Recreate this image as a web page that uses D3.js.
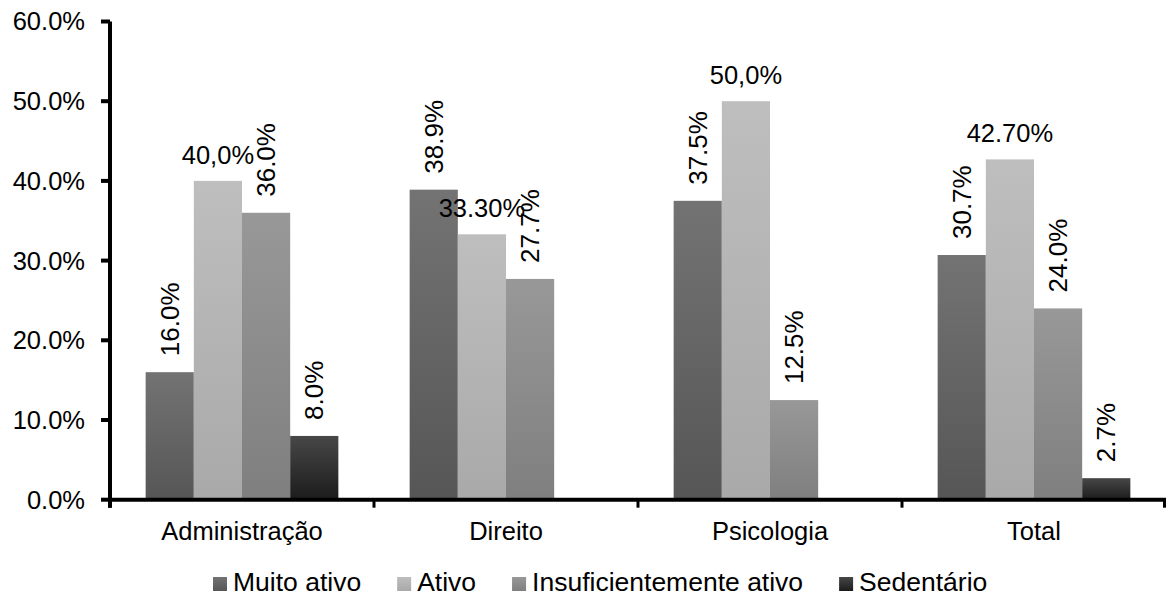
<!DOCTYPE html>
<html>
<head>
<meta charset="utf-8">
<script src="https://cdn.jsdelivr.net/npm/d3@7"></script>
<style>
  html, body { margin: 0; padding: 0; background: #fff; }
  svg { display: block; }
  text { font-family: "Liberation Sans", Arial, sans-serif; fill: #000; }
</style>
</head>
<body>
<svg id="chart" width="1167" height="598"></svg>
<script>
// ---- data ----
const categories = ["Administração", "Direito", "Psicologia", "Total"];
const seriesNames = ["Muito ativo", "Ativo", "Insuficientemente ativo", "Sedentário"];
const muitoAtivo = [16.0, 38.9, 37.5, 30.7];
const ativo = [40.0, 33.3, 50.0, 42.7];
const insuficiente = [36.0, 27.7, 12.5, 24.0];
const sedentario = [8.0, null, null, 2.7];
const muitoAtivoLabels = ["16.0%", "38.9%", "37.5%", "30.7%"];
const ativoLabels = ["40,0%", "33.30%", "50,0%", "42.70%"];
const insuficienteLabels = ["36.0%", "27.7%", "12.5%", "24.0%"];
const sedentarioLabels = ["8.0%", "", "", "2.7%"];
const yTicks = [0, 10, 20, 30, 40, 50, 60];
const yTickLabels = ["0.0%", "10.0%", "20.0%", "30.0%", "40.0%", "50.0%", "60.0%"];

const seriesValues = [muitoAtivo, ativo, insuficiente, sedentario];
const seriesLabels = [muitoAtivoLabels, ativoLabels, insuficienteLabels, sedentarioLabels];
const rotatedLabel = [true, false, true, true];
const gradStops = [["#737373", "#565656"], ["#bebebe", "#a9a9a9"], ["#989898", "#7f7f7f"], ["#474747", "#1c1c1c"]];

const svg = d3.select("#chart");
const plotLeft = 110, plotRight = 1166, plotTop = 21.5, plotBottom = 499.7;

const x = d3.scaleBand().domain(categories).range([plotLeft, plotRight]).paddingInner(0).paddingOuter(0);
const xs = d3.scaleBand().domain(seriesNames).range([0, x.bandwidth()]).paddingInner(0).paddingOuter(0.74);
const y = d3.scaleLinear().domain([0, 60]).range([plotBottom, plotTop]);

// gradients
const defs = svg.append("defs");
seriesNames.forEach((s, i) => {
  const g = defs.append("linearGradient").attr("id", "g" + i)
    .attr("x1", 0).attr("y1", 0).attr("x2", 0).attr("y2", 1);
  g.append("stop").attr("offset", "0%").attr("stop-color", gradStops[i][0]);
  g.append("stop").attr("offset", "100%").attr("stop-color", gradStops[i][1]);
});

// bars
const rows = [];
seriesNames.forEach((s, si) => {
  categories.forEach((c, ci) => {
    rows.push({ s, si, c, v: seriesValues[si][ci], label: seriesLabels[si][ci] });
  });
});
const valid = rows.filter(d => d.v !== null);

svg.append("g").selectAll("rect").data(valid).join("rect")
  .attr("x", d => x(d.c) + xs(d.s))
  .attr("width", xs.bandwidth())
  .attr("y", d => y(d.v))
  .attr("height", d => y(0) - y(d.v))
  .attr("fill", d => `url(#g${d.si})`);

// value labels
const lab = svg.append("g");
valid.filter(d => d.label).forEach(d => {
  const cx = x(d.c) + xs(d.s) + xs.bandwidth() / 2;
  const ty = y(d.v);
  if (rotatedLabel[d.si]) {
    lab.append("text")
      .attr("transform", `translate(${cx},${ty - 16}) rotate(-90)`)
      .attr("text-anchor", "start")
      .attr("dy", "0.35em")
      .style("font-size", "26px")
      .text(d.label);
  } else {
    lab.append("text")
      .attr("x", cx).attr("y", ty - 17)
      .attr("text-anchor", "middle")
      .style("font-size", "25.5px")
      .text(d.label);
  }
});

// y axis
const yAxis = svg.append("g");
yAxis.append("line").attr("x1", plotLeft).attr("x2", plotLeft).attr("y1", y(60)).attr("y2", plotBottom + 8)
  .attr("stroke", "#000").attr("stroke-width", 4);
yTicks.forEach((t, i) => {
  yAxis.append("line").attr("x1", plotLeft - 9).attr("x2", plotLeft).attr("y1", y(t)).attr("y2", y(t))
    .attr("stroke", "#000").attr("stroke-width", 4);
  yAxis.append("text").attr("x", 85).attr("y", y(t)).attr("dy", "0.35em")
    .attr("text-anchor", "end").style("font-size", "25.5px").text(yTickLabels[i]);
});

// x axis
const xAxis = svg.append("g");
xAxis.append("line").attr("x1", plotLeft - 2).attr("x2", plotRight).attr("y1", plotBottom).attr("y2", plotBottom)
  .attr("stroke", "#000").attr("stroke-width", 4);
const bounds = categories.map(c => x(c)).concat([x(categories[categories.length - 1]) + x.bandwidth()]);
bounds.forEach(b => {
  const bx = Math.min(b, plotRight - 1.5);
  xAxis.append("line").attr("x1", bx).attr("x2", bx).attr("y1", plotBottom).attr("y2", plotBottom + 8)
    .attr("stroke", "#000").attr("stroke-width", 3);
});
categories.forEach(c => {
  xAxis.append("text").attr("x", x(c) + x.bandwidth() / 2).attr("y", 540)
    .attr("text-anchor", "middle").style("font-size", "25.5px").text(c);
});

// legend
const leg = svg.append("g");
let lx = 213;
seriesNames.forEach((s, i) => {
  leg.append("rect").attr("x", lx).attr("y", 577).attr("width", 14).attr("height", 14)
    .attr("fill", `url(#g${i})`);
  const t = leg.append("text").attr("x", lx + 20).attr("y", 591)
    .style("font-size", "26.5px").text(s);
  const w = t.node().getComputedTextLength();
  lx = lx + 20 + w + 36;
});
</script>
</body>
</html>
